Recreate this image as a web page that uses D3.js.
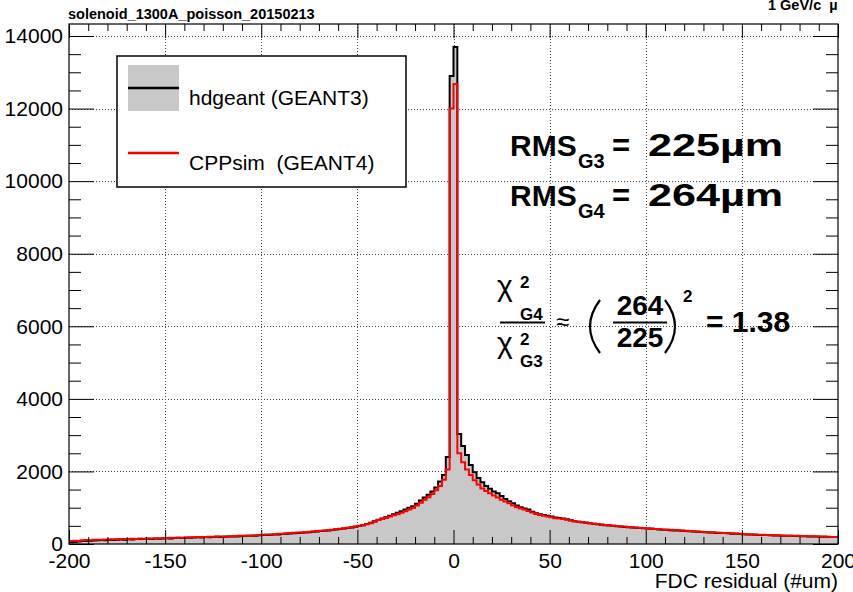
<!DOCTYPE html>
<html><head><meta charset="utf-8">
<script src="https://cdn.jsdelivr.net/npm/d3@7"></script>
<style>
body{margin:0;background:#fff}
svg{display:block}
text{font-family:"Liberation Sans",Arial,Helvetica,sans-serif;white-space:pre}
</style>
</head><body>
<svg id="c" width="853" height="592"></svg>
<script>
// ---------------- data ----------------
const xDomain = [-200, 200];
const binWidth = 2; // µm per bin, 200 bins from -200 to 200
const yMax = 14331;
const xTicks = [-200, -150, -100, -50, 0, 50, 100, 150, 200];
const yTicks = [0, 2000, 4000, 6000, 8000, 10000, 12000, 14000];
const seriesNames = ["hdgeant (GEANT3)", "CPPsim  (GEANT4)"];

// hdgeant (GEANT3) bin contents, bins [-200,-198] ... [198,200]
const g3 = [
  50, 55, 70, 80, 85, 90, 95, 100, 110, 105,
  115, 110, 120, 125, 120, 130, 125, 135, 140, 135,
  145, 140, 150, 145, 155, 160, 155, 165, 170, 165,
  175, 170, 180, 185, 180, 190, 185, 195, 200, 195,
  200, 205, 210, 210, 215, 220, 225, 225, 230, 240,
  245, 250, 255, 260, 265, 275, 280, 290, 295, 305,
  310, 315, 325, 335, 345, 355, 365, 375, 385, 400,
  410, 425, 440, 455, 475, 495, 520, 550, 585, 625,
  670, 705, 740, 780, 820, 860, 900, 950, 1000, 1040,
  1110, 1200, 1280, 1360, 1450, 1560, 1720, 1900, 2400, 12900,
  13700, 3030, 2700, 2450, 2180, 1980, 1820, 1700, 1600, 1520,
  1450, 1400, 1320, 1240, 1180, 1120, 1060, 1010, 980, 950,
  890, 850, 820, 800, 780, 760, 730, 715, 700, 680,
  655, 630, 615, 600, 585, 570, 555, 545, 530, 520,
  510, 500, 490, 480, 470, 465, 455, 450, 440, 435,
  425, 420, 410, 400, 395, 390, 380, 375, 370, 365,
  355, 350, 345, 340, 330, 325, 320, 315, 305, 300,
  300, 295, 285, 280, 275, 270, 265, 260, 255, 250,
  250, 245, 240, 235, 235, 230, 225, 225, 220, 220,
  215, 215, 210, 210, 205, 200, 200, 195, 190, 190
];

// CPPsim (GEANT4) bin contents
const g4 = [
  80, 90, 85, 100, 110, 100, 115, 120, 115, 125,
  125, 130, 130, 135, 140, 135, 145, 140, 150, 145,
  150, 155, 155, 160, 160, 165, 170, 170, 175, 175,
  180, 185, 185, 190, 190, 195, 200, 200, 205, 205,
  210, 210, 215, 220, 225, 230, 230, 235, 240, 250,
  255, 260, 265, 270, 280, 285, 295, 300, 310, 315,
  320, 330, 335, 345, 355, 365, 375, 385, 395, 410,
  420, 430, 445, 460, 480, 500, 520, 545, 575, 615,
  660, 690, 720, 755, 790, 820, 860, 900, 950, 990,
  1060, 1140, 1220, 1290, 1380, 1480, 1600, 1770, 2050, 12000,
  12680, 2500, 2250, 2050, 1900, 1760, 1640, 1530, 1460, 1400,
  1340, 1280, 1220, 1170, 1120, 1060, 1010, 980, 950, 910,
  870, 830, 800, 780, 760, 740, 710, 700, 690, 670,
  650, 630, 615, 600, 590, 575, 560, 550, 535, 525,
  515, 505, 495, 485, 480, 470, 465, 455, 450, 440,
  430, 425, 415, 410, 400, 395, 390, 385, 380, 370,
  365, 355, 350, 345, 340, 330, 325, 320, 315, 310,
  305, 300, 295, 290, 280, 275, 270, 265, 260, 255,
  255, 250, 245, 240, 240, 235, 230, 230, 225, 225,
  220, 220, 215, 215, 210, 210, 205, 200, 195, 195
];

// ---------------- layout ----------------
const L = 69, R = 838, T = 24, B = 544;
const svg = d3.select("#c");
svg.append("rect").attr("width", 853).attr("height", 592).attr("fill", "#fff");

const x = d3.scaleLinear().domain(xDomain).range([L, R]);
const y = d3.scaleLinear().domain([0, yMax]).range([B, T]);

// grid
const grid = svg.append("g").attr("stroke", "#444").attr("stroke-width", 1).attr("stroke-dasharray", "1,2");
grid.selectAll("line.gx").data(xTicks.filter(d => d > xDomain[0] && d < xDomain[1])).enter()
  .append("line").attr("x1", d => Math.round(x(d)) + 0.5).attr("x2", d => Math.round(x(d)) + 0.5)
  .attr("y1", T).attr("y2", B);
grid.selectAll("line.gy").data(yTicks.filter(d => d > 0)).enter()
  .append("line").attr("y1", d => Math.round(y(d)) + 0.5).attr("y2", d => Math.round(y(d)) + 0.5)
  .attr("x1", L).attr("x2", R);

// histogram
const toPts = arr => {
  const p = arr.map((v, i) => ({ x: xDomain[0] + i * binWidth, v }));
  p.push({ x: xDomain[1], v: arr[arr.length - 1] });
  return p;
};
svg.append("clipPath").attr("id", "clipf").append("rect")
  .attr("x", L).attr("y", T).attr("width", R - L).attr("height", B - T);
const hg = svg.append("g").attr("clip-path", "url(#clipf)");
const area = d3.area().x(d => x(d.x)).y0(y(0)).y1(d => y(d.v)).curve(d3.curveStepAfter);
const line = d3.line().x(d => x(d.x)).y(d => y(d.v)).curve(d3.curveStepAfter);
hg.append("path").attr("d", area(toPts(g3))).attr("fill", "#c8c8c8");
hg.append("path").attr("d", line(toPts(g3))).attr("fill", "none").attr("stroke", "#000").attr("stroke-width", 2);
hg.append("path").attr("d", line(toPts(g4))).attr("fill", "none").attr("stroke", "#ff0000").attr("stroke-width", 2);

// axes
const xMinor = d3.range(xDomain[0], xDomain[1] + 1, 10).filter(d => !xTicks.includes(d));
const yMinor = d3.range(0, yMax, 500).filter(d => !yTicks.includes(d));
const fmt = d => String(d);
function styleAxis(g) {
  g.select(".domain").remove();
  g.selectAll("line").attr("stroke", "#000").attr("stroke-width", 1);
  g.selectAll("text").attr("fill", "#000").attr("font-size", 21)
    .attr("font-family", '"Liberation Sans",Arial,sans-serif');
}
svg.append("g").attr("transform", `translate(0,${B})`)
  .call(d3.axisBottom(x).tickValues(xTicks).tickSize(-14).tickPadding(9).tickFormat(fmt)).call(styleAxis);
svg.append("g").attr("transform", `translate(0,${B})`)
  .call(d3.axisBottom(x).tickValues(xMinor).tickSize(-7).tickFormat("")).call(styleAxis);
svg.append("g").attr("transform", `translate(0,${T})`)
  .call(d3.axisTop(x).tickValues(xTicks).tickSize(-14).tickFormat("")).call(styleAxis);
svg.append("g").attr("transform", `translate(0,${T})`)
  .call(d3.axisTop(x).tickValues(xMinor).tickSize(-7).tickFormat("")).call(styleAxis);
svg.append("g").attr("transform", `translate(${L},0)`)
  .call(d3.axisLeft(y).tickValues(yTicks).tickSize(-25).tickPadding(6).tickFormat(fmt)).call(styleAxis);
svg.append("g").attr("transform", `translate(${L},0)`)
  .call(d3.axisLeft(y).tickValues(yMinor).tickSize(-12).tickFormat("")).call(styleAxis);
svg.append("g").attr("transform", `translate(${R},0)`)
  .call(d3.axisRight(y).tickValues(yTicks).tickSize(-25).tickFormat("")).call(styleAxis);
svg.append("g").attr("transform", `translate(${R},0)`)
  .call(d3.axisRight(y).tickValues(yMinor).tickSize(-12).tickFormat("")).call(styleAxis);

// frame
svg.append("rect").attr("x", L).attr("y", T).attr("width", R - L).attr("height", B - T)
  .attr("fill", "none").attr("stroke", "#000").attr("stroke-width", 1.2);

// titles
svg.append("text").attr("x", 68).attr("y", 19).attr("font-size", 14.5).attr("font-weight", "bold")
  .text("solenoid_1300A_poisson_20150213");
svg.append("text").attr("x", 768).attr("y", 10).attr("font-size", 14.5).attr("font-weight", "bold")
  .text("1 GeV/c  \u00b5");
svg.append("text").attr("x", R).attr("y", 588).attr("font-size", 21).attr("text-anchor", "end")
  .text("FDC residual (#um)");

// legend
const lg = svg.append("g");
lg.append("rect").attr("x", 117).attr("y", 56).attr("width", 289).attr("height", 131)
  .attr("fill", "#fff").attr("stroke", "#000").attr("stroke-width", 1.5);
lg.append("rect").attr("x", 128).attr("y", 65).attr("width", 51).attr("height", 46).attr("fill", "#c8c8c8");
lg.append("line").attr("x1", 128).attr("x2", 179).attr("y1", 88).attr("y2", 88).attr("stroke", "#000").attr("stroke-width", 2.5);
lg.append("line").attr("x1", 128).attr("x2", 179).attr("y1", 153).attr("y2", 153).attr("stroke", "#ff0000").attr("stroke-width", 2.5);
lg.append("text").attr("x", 189).attr("y", 105).attr("font-size", 21).text(seriesNames[0]);
lg.append("text").attr("x", 189).attr("y", 170).attr("font-size", 21).text(seriesNames[1]);

// RMS annotations
const rms = [["G3", "225"], ["G4", "264"]];
rms.forEach((r, i) => {
  const by = 156 + i * 50;
  const g = svg.append("g").attr("font-weight", "bold");
  g.append("text").attr("x", 510).attr("y", by).attr("font-size", 30).text("RMS");
  g.append("text").attr("x", 578).attr("y", by + 12).attr("font-size", 20).text(r[0]);
  g.append("text").attr("x", 612).attr("y", by).attr("font-size", 31).text("=");
  g.append("text").attr("x", 648).attr("y", by).attr("font-size", 32)
    .attr("textLength", 135).attr("lengthAdjust", "spacingAndGlyphs").text(r[1] + "\u00b5m");
});

// chi2 ratio formula
const f = svg.append("g");
const chiFont = '"DejaVu Sans",sans-serif';
f.append("text").attr("x", 497).attr("y", 296).attr("font-size", 30).attr("font-family", chiFont).text("\u03c7");
f.append("text").attr("x", 520).attr("y", 288).attr("font-size", 17).attr("font-weight", "bold").text("2");
f.append("text").attr("x", 520).attr("y", 320).attr("font-size", 17).attr("font-weight", "bold").text("G4");
f.append("line").attr("x1", 500).attr("x2", 545).attr("y1", 322.5).attr("y2", 322.5).attr("stroke", "#000").attr("stroke-width", 2);
f.append("text").attr("x", 497).attr("y", 353).attr("font-size", 30).attr("font-family", chiFont).text("\u03c7");
f.append("text").attr("x", 520).attr("y", 345).attr("font-size", 17).attr("font-weight", "bold").text("2");
f.append("text").attr("x", 520).attr("y", 367).attr("font-size", 17).attr("font-weight", "bold").text("G3");
f.append("text").attr("x", 556).attr("y", 330).attr("font-size", 24).text("\u2248");
f.append("path").attr("d", "M600,300 Q580,326.5 600,353").attr("fill", "none").attr("stroke", "#000").attr("stroke-width", 2.2);
f.append("path").attr("d", "M665,300 Q685,326.5 665,353").attr("fill", "none").attr("stroke", "#000").attr("stroke-width", 2.2);
f.append("text").attr("x", 640).attr("y", 315).attr("font-size", 28).attr("font-weight", "bold").attr("text-anchor", "middle").text("264");
f.append("line").attr("x1", 613).attr("x2", 667).attr("y1", 322.5).attr("y2", 322.5).attr("stroke", "#000").attr("stroke-width", 2);
f.append("text").attr("x", 640).attr("y", 347).attr("font-size", 28).attr("font-weight", "bold").attr("text-anchor", "middle").text("225");
f.append("text").attr("x", 683).attr("y", 302).attr("font-size", 17).attr("font-weight", "bold").text("2");
f.append("text").attr("x", 706).attr("y", 332).attr("font-size", 30).attr("font-weight", "bold").text("= 1.38");
</script>
</body></html>
